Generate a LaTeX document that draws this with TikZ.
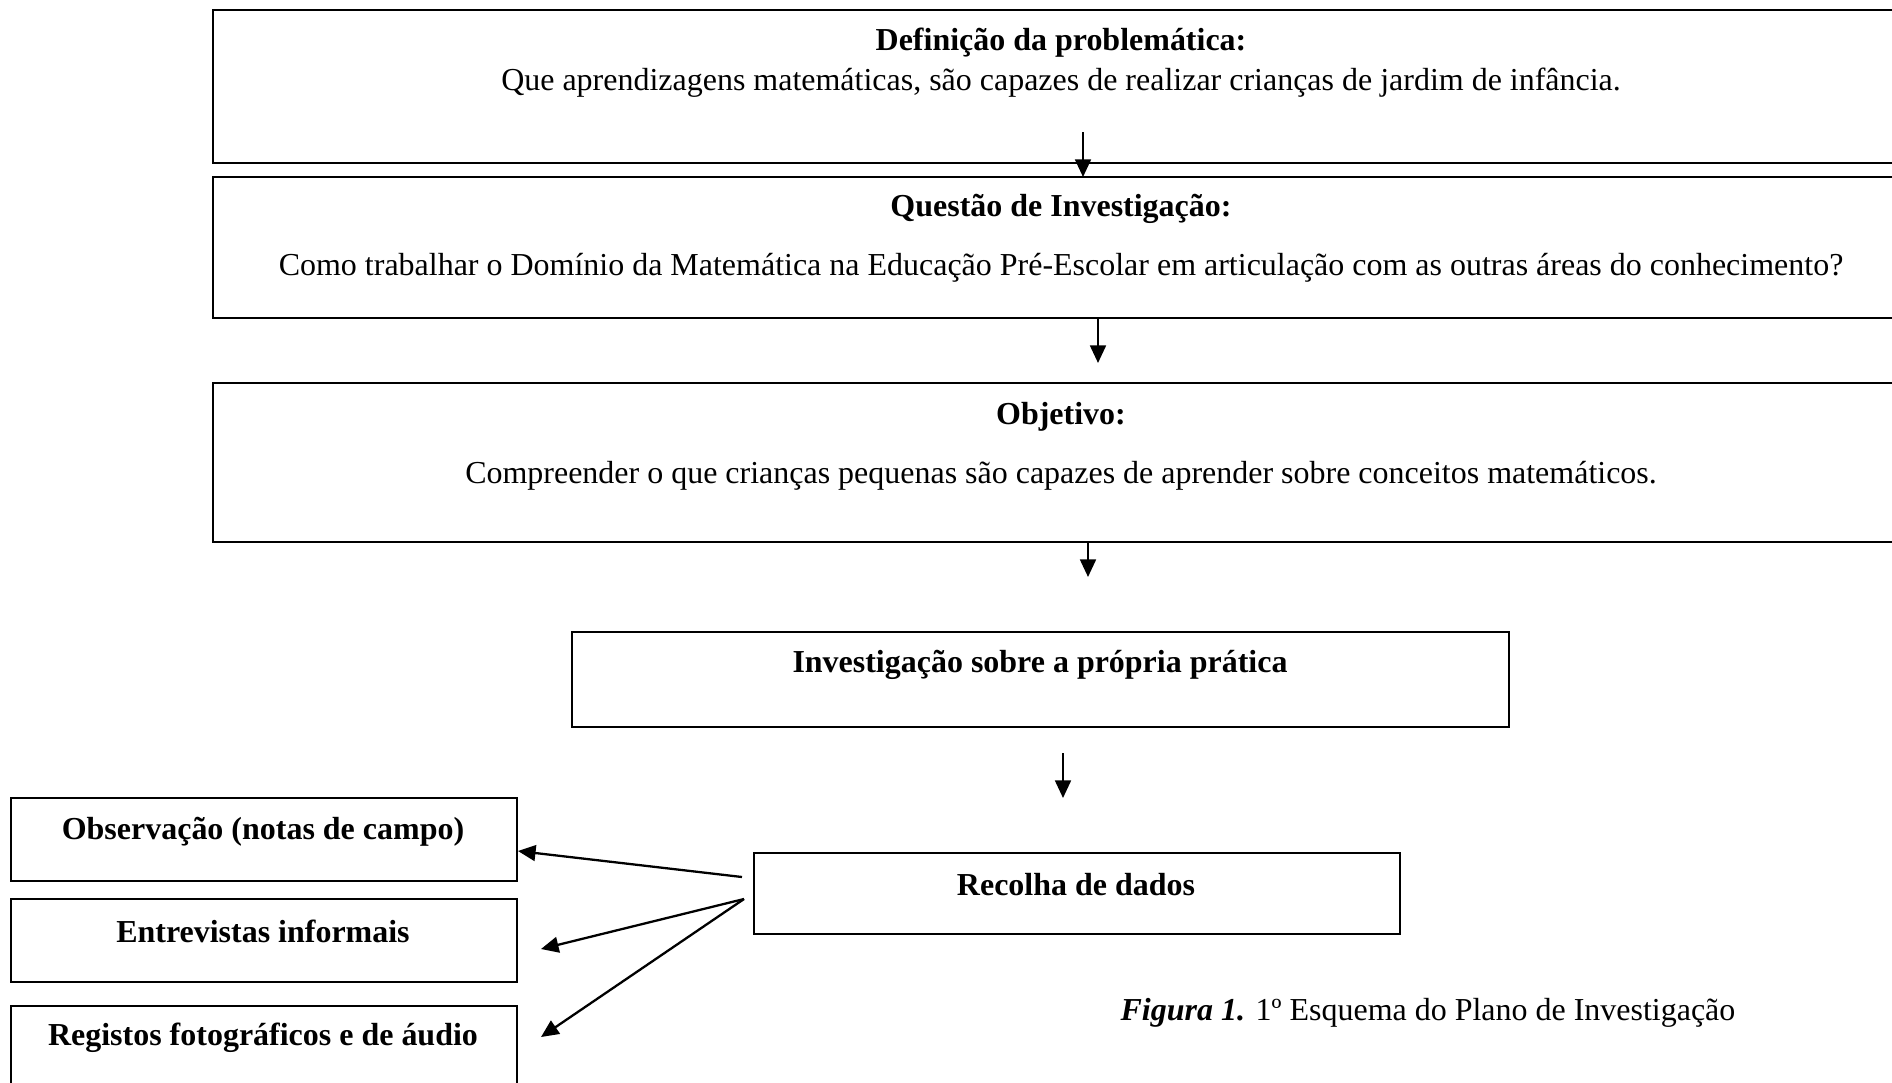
\documentclass[tikz,border=0pt]{standalone}
\usepackage{fontspec}
\setmainfont{Liberation Serif}
\usepackage{tikz}
\usetikzlibrary{positioning,arrows.meta}

\tikzset{
  box/.style={draw, line width=1pt, inner sep=0pt},
  txt/.style={inner sep=0pt, font=\fontsize{18.2}{22}\selectfont},
  hd/.style={txt, font=\fontsize{18.2}{22}\selectfont\bfseries},
  flow/.style={line width=1.3pt, -{Triangle[length=10pt, width=9pt]}},
}

\begin{document}
\begin{tikzpicture}[x=0.02cm, y=-0.02cm]
\useasboundingbox (0,0) rectangle (1892,1082);

% the three wide boxes
\node[box, minimum width=33.92cm, minimum height=3.06cm] (prob) at (1061,86.5) {};
\node[box, minimum width=33.92cm, minimum height=2.82cm] (quest) at (1061,247.5) {};
\node[box, minimum width=33.92cm, minimum height=3.18cm] (obj) at (1061,462.5) {};

\node[hd] (probhd) at (1061,43) {Definição da problemática:};
\node[txt] (probtxt) at (1061,83) {Que aprendizagens matemáticas, são capazes de realizar crianças de jardim de infância.};

\node[hd] (questhd) at (1061,209) {Questão de Investigação:};
\node[txt] (questtxt) at (1061,268) {Como trabalhar o Domínio da Matemática na Educação Pré-Escolar em articulação com as outras áreas do conhecimento?};

\node[hd] (objhd) at (1061,417) {Objetivo:};
\node[txt] (objtxt) at (1061,476) {Compreender o que crianças pequenas são capazes de aprender sobre conceitos matemáticos.};

% method
\node[box, minimum width=18.74cm, minimum height=1.9cm] (inv) at (1040.5,679.5) {};
\node[hd] (invhd) at (1040,665) {Investigação sobre a própria prática};

\node[box, minimum width=12.92cm, minimum height=1.62cm] (rec) at (1077,893.5) {};
\node[hd] (rechd) at (1076,885) {Recolha de dados};

% instruments
\node[box, minimum width=10.12cm, minimum height=1.66cm] (obs) at (264,839.5) {};
\node[box, minimum width=10.12cm, minimum height=1.66cm] (ent) at (264,940.5) {};
\node[box, minimum width=10.12cm, minimum height=1.66cm] (reg) at (264,1047.5) {};
\node[hd] (obshd) at (263,832) {Observação (notas de campo)};
\node[hd] (enthd) at (263,931) {Entrevistas informais};
\node[hd] (reghd) at (263,1038) {Registos fotográficos e de áudio};

\node[txt] (cap) at (1428,1013) {{\bfseries\itshape Figura 1.} 1º Esquema do Plano de Investigação};

% arrow ends
\coordinate (a1) at (1083,132);
\coordinate (b1) at (1083,177);
\coordinate (a2) at (1098,318);
\coordinate (b2) at (1098,363);
\coordinate (a3) at (1088,542);
\coordinate (b3) at (1088,577);
\coordinate (a4) at (1063,753);
\coordinate (b4) at (1063,798);

\coordinate (r1) at (742,877);
\coordinate (r2) at (744,899);
\coordinate (o1) at (518,851);
\coordinate (e1) at (541,949);
\coordinate (g1) at (541,1037);

\draw[flow] (a1) -- (b1);
\draw[flow] (a2) -- (b2);
\draw[flow] (a3) -- (b3);
\draw[flow] (a4) -- (b4);

\draw[flow] (r1) -- (o1);
\draw[flow] (r2) -- (e1);
\draw[flow] (r2) -- (g1);

\end{tikzpicture}
\end{document}
